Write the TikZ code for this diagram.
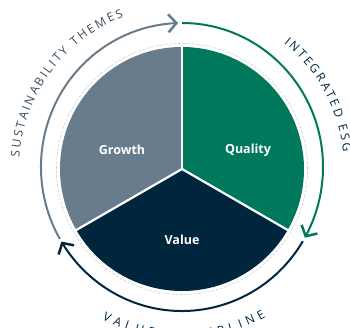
\documentclass[tikz,border=0pt]{standalone}
\usepackage{fontspec}
\setmainfont{Open Sans}
\usetikzlibrary{arrows.meta,bending,decorations.text}
\definecolor{cgray}{RGB}{104,124,139}
\definecolor{cgreen}{RGB}{0,120,92}
\definecolor{cnavy}{RGB}{0,38,62}
\definecolor{tgray}{RGB}{55,74,90}
\begin{document}
\begin{tikzpicture}[x=1pt,y=1pt,
  lbl/.style={text=white, font=\fontsize{12.5}{15}\selectfont\bfseries},
  ring/.style={line width=2pt, -{Straight Barb[length=8pt,width=18pt,line width=2.5pt]}},
  sep/.style={white, line width=2.2pt},
  arctext/.style={decorate, decoration={text along path, text align=fit to path, text color=#1}},
]
\useasboundingbox (-182,-159) rectangle (168,169);
% pie sectors
\fill[cgray] (0,0) -- (90:122) arc[start angle=90,end angle=210,radius=122] -- cycle;
\fill[cgreen] (0,0) -- (-30:122) arc[start angle=-30,end angle=90,radius=122] -- cycle;
\fill[cnavy] (0,0) -- (210:122) arc[start angle=210,end angle=330,radius=122] -- cycle;
\draw[sep] (0,0) -- (90:123);
\draw[sep] (0,0) -- (210:123);
\draw[sep] (0,0) -- (330:123);
\draw[gray!35, line width=0.6pt, dash pattern=on 3pt off 1.5pt] (0,0) circle[radius=125.5];
% labels
\node[lbl] (growth) at (-60,19) {Growth};
\node[lbl] (quality) at (66,19) {Quality};
\node[lbl] (value) at (0,-71) {Value};
% ring arrows
\begin{scope}[shift={(0,2)}]
\draw[ring, cgray] (210:141 and 144) arc[start angle=210, end angle=91.6, x radius=141, y radius=144];
\draw[ring, cgreen] (90:141 and 144) arc[start angle=90, end angle=-29.4, x radius=141, y radius=144];
\draw[ring, cnavy] (-31:141 and 144) arc[start angle=-31, end angle=-148.8, x radius=141, y radius=144];
\end{scope}
% ring texts
\path[arctext=tgray, decoration={text={|\fontsize{12}{14}\selectfont|SUSTAINABILITY THEMES}}]
  (176:163) arc[start angle=176, end angle=111, radius=163];
\path[arctext=cnavy, decoration={text={|\fontsize{12}{14}\selectfont|INTEGRATED ESG}}]
  (51:162) arc[start angle=51, end angle=6, radius=162];
\path[arctext=cnavy, decoration={text={|\fontsize{12}{14}\selectfont|VALUE DISCIPLINE}}]
  (242:170) arc[start angle=242, end angle=299.5, radius=170];
\end{tikzpicture}
\end{document}
